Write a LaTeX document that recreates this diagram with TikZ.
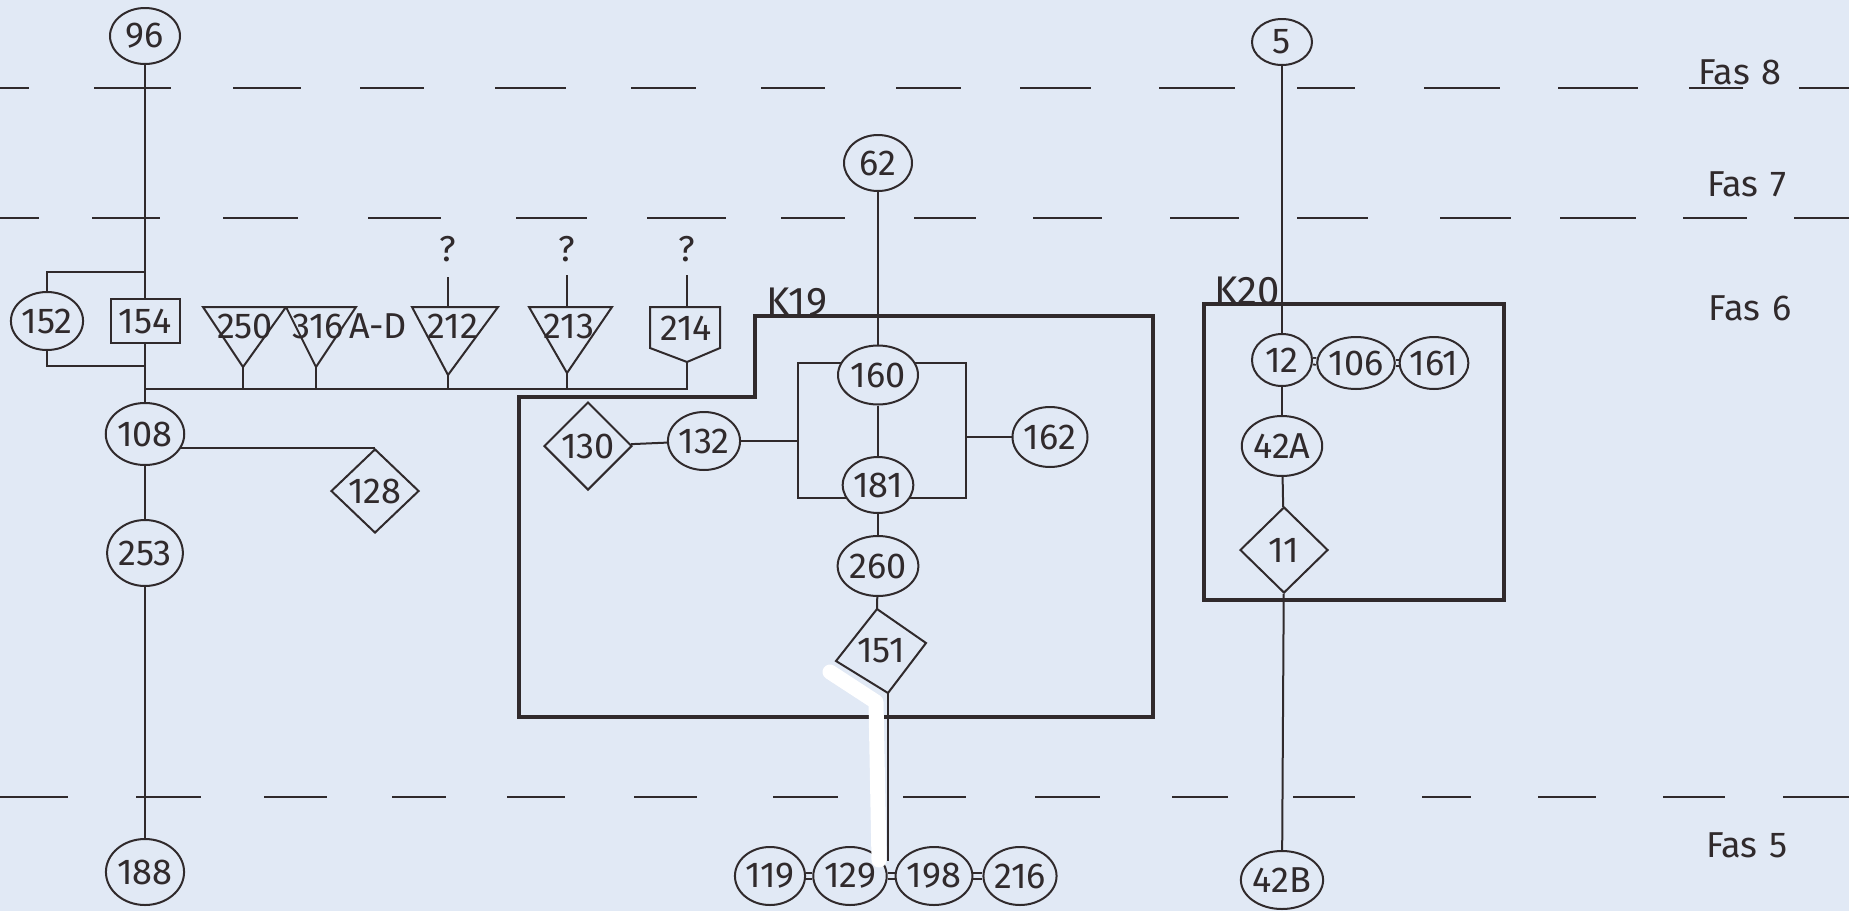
\documentclass[tikz,border=0pt]{standalone}
\usepackage{fontspec}
\setmainfont{Fira Sans}
\usetikzlibrary{shapes.geometric,calc}
\definecolor{paper}{RGB}{225,233,245}
\definecolor{inkc}{RGB}{48,42,44}
\pgfdeclarelayer{bg}
\pgfsetlayers{bg,main}
\begin{document}
\begin{tikzpicture}[x=0.5pt,y=-0.5pt,
  every node/.style={font=\fontsize{18pt}{20pt}\selectfont, text=inkc},
  ln/.style={draw=inkc, line width=1pt},
  ov/.style 2 args={ellipse, draw=inkc, line width=1pt, fill=paper, inner sep=0pt, minimum width={#1*0.5pt}, minimum height={#2*0.5pt}},
  dm/.style 2 args={diamond, draw=inkc, line width=1pt, fill=paper, inner sep=0pt, minimum width={#1*0.5pt}, minimum height={#2*0.5pt}},
  bx/.style 2 args={rectangle, draw=inkc, line width=1pt, fill=paper, inner sep=0pt, minimum width={#1*0.5pt}, minimum height={#2*0.5pt}},
  tri/.style={draw=inkc, line width=1pt, fill=paper, line join=miter},
  kbox/.style={draw=inkc, line width=1.8pt},
  dashln/.style={draw=inkc, line width=1.2pt},
  eq/.style={draw=inkc, line width=0.9pt, double=paper, double distance=2.4pt},
  klab/.style={font=\fontsize{20pt}{22pt}\selectfont, inner sep=0pt},
  txt/.style={inner sep=0pt}
]
\useasboundingbox (0,0) rectangle (1849,911);

% ---------- left column ----------
\node[ov={70}{56}] (n96) at (145,36) {96};
\node[bx={69}{44}] (n154) at (145,321) {154};
\node[ov={68}{58}] (n152) at (47,321) {152};
\node[ov={66}{62}] (n108) at (145,434) {108};
\node[ov={64}{66}] (n253) at (145,553) {253};
\node[ov={74}{66}] (n188) at (145,872) {188};
\node[dm={88}{84}] (n128) at (375,491) {128};

% triangles and pentagon
\draw[tri] (203,307) -- (286,307) -- (243,367) -- cycle;
\draw[tri] (286,307) -- (356,307) -- (316,367) -- cycle;
\draw[tri] (412,307) -- (498,307) -- (448,375) -- cycle;
\draw[tri] (529,307) -- (612,307) -- (567,373) -- cycle;
\draw[tri] (650,307) -- (720,307) -- (720,348) -- (687,362) -- (650,348) -- cycle;
\node[txt] (n250) at (245,326) {250};
\node[txt] (n316) at (318,326) {316};
\node[txt] (nAD) at (378,326) {A-D};
\node[txt] (n212) at (453,326) {212};
\node[txt] (n213) at (569,326) {213};
\node[txt] (n214) at (686,328) {214};
\coordinate (t250) at (243,367);
\coordinate (t316) at (316,367);
\coordinate (t212) at (448,375);
\coordinate (t213) at (567,373);
\coordinate (t214) at (687,362);
\coordinate (c212) at (448,307);
\coordinate (c213) at (567,307);
\coordinate (c214) at (687,307);
\node[txt] (q212) at (448,249) {?};
\node[txt] (q213) at (567,249) {?};
\node[txt] (q214) at (687,249) {?};

% ---------- K19 group ----------
\node[ov={68}{56}] (n62) at (878,163) {62};
\node[ov={80}{59}] (n160) at (878,375) {160};
\node[ov={68}{56}] (n181) at (878,485) {181};
\node[ov={70}{60}] (n260) at (878,566) {260};
\node[ov={66}{58}] (n132) at (704,441) {132};
\node[dm={88}{88}] (n130) at (588,446) {130};
\node[ov={75}{60}] (n162) at (1050,437) {162};
\draw[tri] (877,609) -- (926,643) -- (888,693) -- (836,661) -- cycle;
\node[txt] (n151) at (881,651) {151};
\coordinate (d151n) at (877,609);
\coordinate (d151s) at (888,693);
\node[klab] (k19) at (797,302) {K19};

% bottom row
\node[ov={66}{58}] (n119) at (770,876) {119};
\node[ov={64}{58}] (n129) at (850,876) {129};
\node[ov={66}{58}] (n198) at (934,876) {198};
\node[ov={68}{58}] (n216) at (1020,876) {216};
\coordinate (j) at (888,861);

% ---------- K20 group ----------
\node[ov={60}{46}] (n5) at (1282,42) {5};
\node[ov={60}{52}] (n12) at (1282,360) {12};
\node[ov={62}{52}] (n106) at (1356,363) {106};
\node[ov={64}{52}] (n161) at (1434,363) {161};
\node[ov={72}{60}] (n42A) at (1282,446) {42A};
\node[dm={88}{86}] (n11) at (1284,550) {11};
\node[ov={76}{58}] (n42B) at (1282,880) {42B};
\node[klab] (k20) at (1247,291) {K20};

% ---------- phase labels ----------
\node[txt] (f8) at (1740,72) {Fas\,\,8};
\node[txt] (f7) at (1747,184) {Fas\,\,7};
\node[txt] (f6) at (1750,308) {Fas\,\,6};
\node[txt] (f5) at (1747,845) {Fas\,\,5};

\begin{pgfonlayer}{bg}
\fill[paper] (0,0) rectangle (1849,911);
% phase dashed lines
\foreach \a/\b in {0/29,94/171,233/301,360/424,495/566,631/696,761/825,896/961,1020/1091,1159/1235,1297/1355,1424/1500,1558/1638,1689/1743,1799/1849}
  \draw[dashln] (\a,88) -- (\b,88);
\foreach \a/\b in {0/39,92/160,223/298,368/441,516/587,647/726,781/845,914/976,1033/1102,1170/1239,1297/1368,1440/1511,1560/1636,1683/1747,1794/1849}
  \draw[dashln] (\a,218) -- (\b,218);
\foreach \a/\b in {0/68,136/201,264/327,392/446,507/565,634/697,773/838,903/966,1035/1100,1172/1228,1293/1355,1422/1471,1538/1596,1663/1725,1783/1849}
  \draw[dashln] (\a,797) -- (\b,797);

% left column connectors
\draw[ln] (n96) -- (n154);
\draw[ln] (n154) -- (n108);
\draw[ln] (n108) -- (n253);
\draw[ln] (n253) -- (n188);
\coordinate (bt) at (145,272);
\coordinate (bb) at (145,366);
\draw[ln] (bt) -| (n152);
\draw[ln] (bb) -| (n152);
\coordinate (hb) at (145,389);
\coordinate (he) at (687,389);
\draw[ln] (hb) -- (he) -- (t214);
\draw[ln] (t250) -- (t250 |- hb);
\draw[ln] (t316) -- (t316 |- hb);
\draw[ln] (t212) -- (t212 |- hb);
\draw[ln] (t213) -- (t213 |- hb);
\draw[ln] (c212) -- ++(0,-30);
\draw[ln] (c213) -- ++(0,-32);
\draw[ln] (c214) -- ++(0,-32);
\draw[ln] (n108.center |- n128.north) -- (n128.north);

% K19 frame and connectors
\draw[kbox] (519,717) -- (519,397) -- (755,397) -- (755,316) -- (1153,316) -- (1153,717) -- cycle;
\draw[ln] (n62) -- (n160);
\draw[ln] (n160) -- (n181);
\draw[ln] (n181) -- (n260);
\draw[ln] (n260) -- (d151n);
\coordinate (lt) at (798,363);
\coordinate (rt) at (966,363);
\coordinate (lb) at (798,498);
\coordinate (rb) at (966,498);
\draw[ln] (n160.center |- lt) -- (lt) -- (lb) -- (n181.center |- lb);
\draw[ln] (n160.center |- rt) -- (rt) -- (rb) -- (n181.center |- rb);
\draw[ln] (n130) -- (n132);
\draw[ln] (n132) -- (n132 -| lt);
\draw[ln] (rt |- n162) -- (n162);
\draw[ln] (d151s) -- (j);
\draw[eq] (n119) -- (n129);
\draw[eq] (n129) -- (n198);
\draw[eq] (n198) -- (n216);

% K20 frame and connectors
\draw[kbox] (1204,304) rectangle (1504,600);
\draw[ln] (n5) -- (n12);
\draw[ln] (n12) -- (n42A);
\draw[ln] (n42A) -- (n11);
\draw[ln] (n11) -- (n42B);
\draw[eq] (n12) -- (n106);
\draw[eq] (n106) -- (n161);
\end{pgfonlayer}

% correction-fluid stroke
\draw[white, line width=7.5pt, line cap=round, line join=round] (830,672) -- (876,702) -- (879,860);
\end{tikzpicture}
\end{document}
